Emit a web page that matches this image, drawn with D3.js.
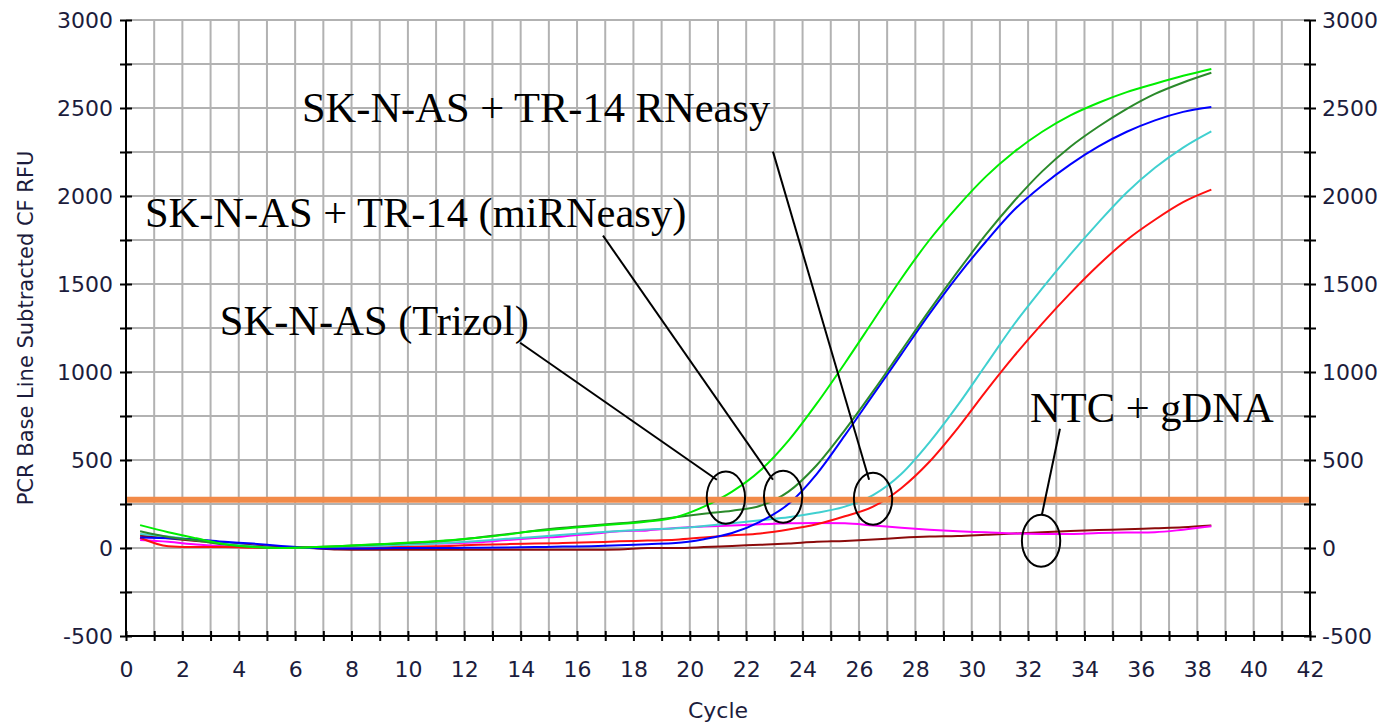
<!DOCTYPE html>
<html>
<head>
<meta charset="utf-8">
<script src="https://cdn.jsdelivr.net/npm/d3@7"></script>
<style>
  html, body { margin: 0; padding: 0; background: #ffffff; }
  svg { display: block; }
</style>
</head>
<body>
<svg id="chart" width="1385" height="724"></svg>
<script>
// ---------------- DATA ----------------
const cycles = [0.5, 1.5, 2.5, 3.5, 4.5, 5.5, 6.5, 7.5, 8.5, 9.5,
  10.5, 11.5, 12.5, 13.5, 14.5, 15.5, 16.5, 17.5, 18.5, 19.5,
  20.5, 21.5, 22.5, 23.5, 24.5, 25.5, 26.5, 27.5, 28.5, 29.5,
  30.5, 31.5, 32.5, 33.5, 34.5, 35.5, 36.5, 37.5, 38.5];

const trizolGreen = [130, 90, 55, 22, 6, 0, 4, 10, 18, 26,
  34, 44, 58, 76, 96, 110, 124, 136, 150, 175,
  235, 320, 440, 610, 820, 1050, 1290, 1530, 1750, 1940,
  2110, 2250, 2365, 2458, 2530, 2590, 2638, 2683, 2722];

const mirneasyDarkGreen = [95, 62, 42, 20, 6, 0, 4, 10, 17, 24,
  32, 42, 60, 78, 98, 115, 128, 140, 155, 175,
  195, 212, 240, 320, 470, 670, 890, 1120, 1350, 1570,
  1780, 1970, 2140, 2280, 2395, 2495, 2580, 2645, 2700];

const mirneasyBlue = [60, 55, 48, 35, 25, 12, 2, -3, -3, 0,
  0, 0, 2, 3, 5, 8, 10, 15, 22, 28,
  50, 85, 150, 250, 420, 640, 870, 1100, 1330, 1545,
  1740, 1920, 2060, 2180, 2282, 2365, 2430, 2478, 2506];

const rneasyCyan = [80, 65, 45, 25, 10, 0, 0, 5, 10, 15,
  22, 30, 40, 52, 62, 75, 87, 97, 105, 112,
  125, 140, 158, 175, 200, 235, 300, 420, 600, 810,
  1040, 1270, 1475, 1668, 1850, 2020, 2160, 2275, 2367];

const rneasyRed = [58, 10, 5, 5, 2, 0, 5, 5, 2, 5,
  8, 12, 18, 22, 25, 28, 32, 38, 42, 47,
  60, 72, 83, 105, 135, 180, 235, 340, 490, 680,
  890, 1090, 1275, 1448, 1608, 1750, 1865, 1965, 2036];

const ntcMagenta = [45, 35, 20, 10, 5, 0, 0, 5, 12, 19,
  24, 26, 32, 45, 57, 66, 80, 95, 100, 114,
  122, 128, 135, 140, 142, 140, 128, 115, 104, 95,
  89, 82, 80, 80, 85, 88, 90, 104, 123];

const gdnaMaroon = [70, 55, 40, 28, 15, 5, 0, -8, -10, -10,
  -10, -10, -10, -10, -10, -10, -10, -8, 0, 0,
  5, 12, 18, 25, 35, 40, 48, 58, 65, 68,
  75, 82, 90, 97, 102, 106, 112, 118, 128];

const thresholdRFU = 274;

const xTicks = d3.range(0, 43, 1);
const xLabels = d3.range(0, 43, 2);
const yTicks = d3.range(-500, 3001, 250);
const yLabels = d3.range(-500, 3001, 500);

const xTitle = "Cycle";
const yTitle = "PCR Base Line Subtracted CF RFU";

// annotations (data units: cycle, RFU)
const annotationLabels = ["SK-N-AS + TR-14 RNeasy", "SK-N-AS + TR-14 (miRNeasy)", "SK-N-AS (Trizol)", "NTC + gDNA"];
const annotationTextAt = [[6.24, 2422], [0.67, 1826], [3.33, 1212], [32.07, 718]];
const leaderFrom = [[22.95, 2252], [16.92, 1775], [13.98, 1166], [33.13, 678]];
const leaderTo = [[26.36, 388], [22.95, 388], [20.96, 388], [32.49, 189]];
const circleCenters = [[21.28, 286], [23.31, 291], [26.5, 280], [32.46, 41]];
const circleRadius = [0.68, 148];

// ---------------- CHART ----------------
const svg = d3.select("#chart");
const plotLeft = 126, plotRight = 1310, plotTop = 20, plotBottom = 636;
const x = d3.scaleLinear().domain([0, 42]).range([plotLeft, plotRight]);
const y = d3.scaleLinear().domain([-500, 3000]).range([plotBottom, plotTop]);

const series = [
  { values: gdnaMaroon, color: "#8b0a0a" },
  { values: ntcMagenta, color: "#ff00ff" },
  { values: rneasyRed, color: "#ff1010" },
  { values: rneasyCyan, color: "#40d0d0" },
  { values: mirneasyBlue, color: "#0000ff" },
  { values: mirneasyDarkGreen, color: "#2a8a2a" },
  { values: trizolGreen, color: "#00ee00" }
];

// grid
const grid = svg.append("g").attr("stroke", "#b2b2b2").attr("stroke-width", 2);
grid.selectAll("line.v").data(xTicks.filter(d => d > 0 && d < 42)).join("line")
  .attr("class", "v")
  .attr("x1", d => x(d)).attr("x2", d => x(d))
  .attr("y1", y(-500)).attr("y2", y(3000));
grid.selectAll("line.h").data(yTicks.filter(d => d > -500)).join("line")
  .attr("class", "h")
  .attr("x1", x(0)).attr("x2", x(42))
  .attr("y1", d => y(d)).attr("y2", d => y(d));

// curves
const line = d3.line()
  .x((d, i) => x(cycles[i]))
  .y(d => y(d))
  .curve(d3.curveMonotoneX);

svg.append("g").selectAll("path").data(series).join("path")
  .attr("d", s => line(s.values))
  .attr("fill", "none")
  .attr("stroke", s => s.color)
  .attr("stroke-width", 2)
  .attr("stroke-linejoin", "round");

// threshold
svg.append("line")
  .attr("x1", x(0)).attr("x2", x(42))
  .attr("y1", y(thresholdRFU)).attr("y2", y(thresholdRFU))
  .attr("stroke", "#f28a48").attr("stroke-width", 6);

// axes
const tickFont = "'DejaVu Sans', Verdana, sans-serif";
const labelColor = "#1c1c3c";

function styleAxis(g) {
  g.select(".domain").attr("stroke", "#000").attr("stroke-width", 2);
  g.selectAll(".tick line").attr("stroke", "#000").attr("stroke-width", 2);
  g.selectAll(".tick text").attr("fill", labelColor)
    .style("font-family", tickFont).style("font-size", "22px");
}

const yLeft = svg.append("g").attr("transform", `translate(${x(0)},0)`)
  .call(d3.axisLeft(y).tickValues(yTicks).tickSize(6).tickPadding(7)
    .tickFormat(d => yLabels.includes(d) ? d : ""));
styleAxis(yLeft);
yLeft.selectAll(".tick line").attr("x1", 6);
yLeft.select(".domain").attr("d", `M0,${y(-500)}V${y(3000)}`);

const yRight = svg.append("g").attr("transform", `translate(${x(42)},0)`)
  .call(d3.axisRight(y).tickValues(yTicks).tickSize(6).tickPadding(6)
    .tickFormat(d => yLabels.includes(d) ? d : ""));
styleAxis(yRight);
yRight.selectAll(".tick line").attr("x1", -6);
yRight.select(".domain").attr("d", `M0,${y(-500)}V${y(3000)}`);

const xAxis = svg.append("g").attr("transform", `translate(0,${y(-500)})`)
  .call(d3.axisBottom(x).tickValues(xTicks).tickSize(5)
    .tickFormat(d => xLabels.includes(d) ? d : ""));
styleAxis(xAxis);
xAxis.selectAll(".tick line").attr("y1", -5);
xAxis.select(".domain").attr("d", `M${x(0)},0H${x(42)}`);
xAxis.selectAll(".tick text").attr("y", 41).attr("dy", 0);

// titles
svg.append("text")
  .attr("x", (plotLeft + plotRight) / 2).attr("y", 718)
  .attr("text-anchor", "middle")
  .attr("fill", labelColor)
  .style("font-family", tickFont).style("font-size", "22px")
  .text(xTitle);

svg.append("text")
  .attr("transform", `translate(33,${(plotTop + plotBottom) / 2}) rotate(-90)`)
  .attr("text-anchor", "middle")
  .attr("fill", labelColor)
  .style("font-family", tickFont).style("font-size", "21px")
  .text(yTitle);

// annotations
const ann = svg.append("g");
ann.selectAll("line").data(leaderFrom).join("line")
  .attr("x1", d => x(d[0])).attr("y1", d => y(d[1]))
  .attr("x2", (d, i) => x(leaderTo[i][0])).attr("y2", (d, i) => y(leaderTo[i][1]))
  .attr("stroke", "#000").attr("stroke-width", 2);

ann.selectAll("ellipse").data(circleCenters).join("ellipse")
  .attr("cx", d => x(d[0])).attr("cy", d => y(d[1]))
  .attr("rx", x(circleRadius[0]) - x(0))
  .attr("ry", y(0) - y(circleRadius[1]))
  .attr("fill", "none").attr("stroke", "#000").attr("stroke-width", 2);

ann.selectAll("text").data(annotationLabels).join("text")
  .attr("x", (d, i) => x(annotationTextAt[i][0]))
  .attr("y", (d, i) => y(annotationTextAt[i][1]))
  .attr("fill", "#000")
  .style("font-family", "'Liberation Serif', 'Times New Roman', serif")
  .style("font-size", "42.5px")
  .text(d => d);
</script>
</body>
</html>
